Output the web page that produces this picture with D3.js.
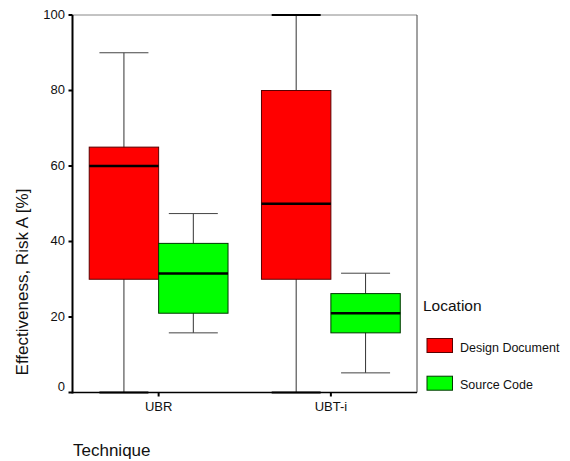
<!DOCTYPE html>
<html>
<head>
<meta charset="utf-8">
<script src="https://cdn.jsdelivr.net/npm/d3@7"></script>
<style>
  body { margin: 0; background: #fff; }
  text { font-family: "Liberation Sans", Arial, sans-serif; fill: #111; }
</style>
</head>
<body>
<div id="main"></div>
<script>
const ctx = {
    w: 570,
    h: 461
};

// data
const techniques = ["UBR", "UBT-i"];
const locations = ["Design Document", "Source Code"];
const locationColors = ["#ff0000", "#00ff00"];
const yTicks = [0, 20, 40, 60, 80, 100];
// per technique, per location: [whiskerLow, q1, median, q3, whiskerHigh]
const ubrStats = [[0, 30, 60, 65, 90], [15.8, 21, 31.5, 39.5, 47.4]];
const ubtiStats = [[0, 30, 50, 80, 100], [5.2, 15.8, 21, 26.2, 31.6]];

function createViz() {
    const svg = d3.select("#main").append("svg")
        .attr("width", ctx.w)
        .attr("height", ctx.h);

    const left = 72.5, right = 417, top = 15, bottom = 392.5;

    const y = d3.scaleLinear().domain([0, 100]).range([bottom, top]);
    const x0 = d3.scaleBand().domain(techniques).range([left, right]);
    const color = d3.scaleOrdinal().domain(locations).range(locationColors);

    const boxW = 69.4;
    const x1 = d3.scaleBand().domain(locations).range([-boxW, boxW]);
    const capW = 49;

    const rows = [];
    [ubrStats, ubtiStats].forEach((stats, i) => {
        stats.forEach((s, j) => {
            rows.push({ tech: techniques[i], loc: locations[j],
                lo: s[0], q1: s[1], med: s[2], q3: s[3], hi: s[4] });
        });
    });
    const cx = d => x0(d.tech) + x0.bandwidth() / 2 + x1(d.loc);

    // frame: top + right border
    svg.append("line").attr("x1", left).attr("x2", right).attr("y1", top).attr("y2", top)
        .attr("stroke", "#888").attr("stroke-width", 1);
    svg.append("line").attr("x1", right).attr("x2", right).attr("y1", top).attr("y2", bottom)
        .attr("stroke", "#444").attr("stroke-width", 1);

    const g = svg.append("g");
    const box = g.selectAll("g.box").data(rows).enter().append("g").attr("class", "box");

    // whiskers
    box.append("line")
        .attr("x1", d => cx(d) + boxW / 2).attr("x2", d => cx(d) + boxW / 2)
        .attr("y1", d => y(d.hi)).attr("y2", d => y(d.lo))
        .attr("stroke", "#333").attr("stroke-width", 1);
    ["lo", "hi"].forEach(k => {
        box.append("line")
            .attr("x1", d => cx(d) + boxW / 2 - capW / 2)
            .attr("x2", d => cx(d) + boxW / 2 + capW / 2)
            .attr("y1", d => y(d[k])).attr("y2", d => y(d[k]))
            .attr("stroke", d => (d[k] == 0 || d[k] == 100) ? "#000" : "#444")
            .attr("stroke-width", d => (d[k] == 0 || d[k] == 100) ? 2 : 1);
    });

    // boxes
    box.append("rect")
        .attr("x", d => cx(d)).attr("width", boxW)
        .attr("y", d => y(d.q3)).attr("height", d => y(d.q1) - y(d.q3))
        .attr("fill", d => color(d.loc))
        .attr("stroke", d => d.loc == locations[0] ? "#5a0000" : "#003a00")
        .attr("stroke-width", 1);
    box.append("line")
        .attr("x1", d => cx(d)).attr("x2", d => cx(d) + boxW)
        .attr("y1", d => y(d.med)).attr("y2", d => y(d.med))
        .attr("stroke", "#000").attr("stroke-width", 2.5);

    // y axis
    const yAxis = svg.append("g");
    yAxis.append("line").attr("x1", left).attr("x2", left).attr("y1", top).attr("y2", bottom + 1)
        .attr("stroke", "#000").attr("stroke-width", 2);
    yAxis.selectAll("line.tick").data(yTicks).enter().append("line").attr("class", "tick")
        .attr("x1", left - 4).attr("x2", left).attr("y1", d => y(d)).attr("y2", d => y(d))
        .attr("stroke", "#000").attr("stroke-width", 2);
    yAxis.selectAll("text").data(yTicks).enter().append("text")
        .attr("x", 65).attr("y", d => y(d)).attr("dy", d => d == 0 ? "-0.1em" : "0.3em")
        .attr("text-anchor", "end").style("font-size", "13px")
        .text(d => d);

    // x axis
    const xAxis = svg.append("g");
    xAxis.append("line").attr("x1", left).attr("x2", right).attr("y1", bottom).attr("y2", bottom)
        .attr("stroke", "#000").attr("stroke-width", 1.5);
    xAxis.selectAll("line.tick").data(techniques).enter().append("line").attr("class", "tick")
        .attr("x1", d => x0(d) + x0.bandwidth() / 2).attr("x2", d => x0(d) + x0.bandwidth() / 2)
        .attr("y1", bottom).attr("y2", bottom + 4)
        .attr("stroke", "#000").attr("stroke-width", 2);
    xAxis.selectAll("text").data(techniques).enter().append("text")
        .attr("x", d => x0(d) + x0.bandwidth() / 2).attr("y", 411)
        .attr("text-anchor", "middle").style("font-size", "13px")
        .text(d => d);

    // titles
    svg.append("text").attr("x", 73).attr("y", 456)
        .style("font-size", "17px").text("Technique");
    svg.append("text")
        .attr("transform", "translate(28,282) rotate(-90)")
        .attr("text-anchor", "middle").style("font-size", "17px")
        .text("Effectiveness, Risk A [%]");

    // legend
    const leg = svg.append("g");
    leg.append("text").attr("x", 423).attr("y", 310.5)
        .style("font-size", "15.5px").text("Location");
    const item = leg.selectAll("g.item").data(locations).enter().append("g").attr("class", "item")
        .attr("transform", (d, i) => `translate(427,${338.5 + i * 37.7})`);
    item.append("rect").attr("width", 25.5).attr("height", 14)
        .attr("fill", d => color(d))
        .attr("stroke", (d, i) => i == 0 ? "#5a0000" : "#003a00").attr("stroke-width", 1);
    item.append("text").attr("x", 33).attr("y", 13)
        .style("font-size", "12.5px").text(d => d);
}

createViz();
</script>
</body>
</html>
